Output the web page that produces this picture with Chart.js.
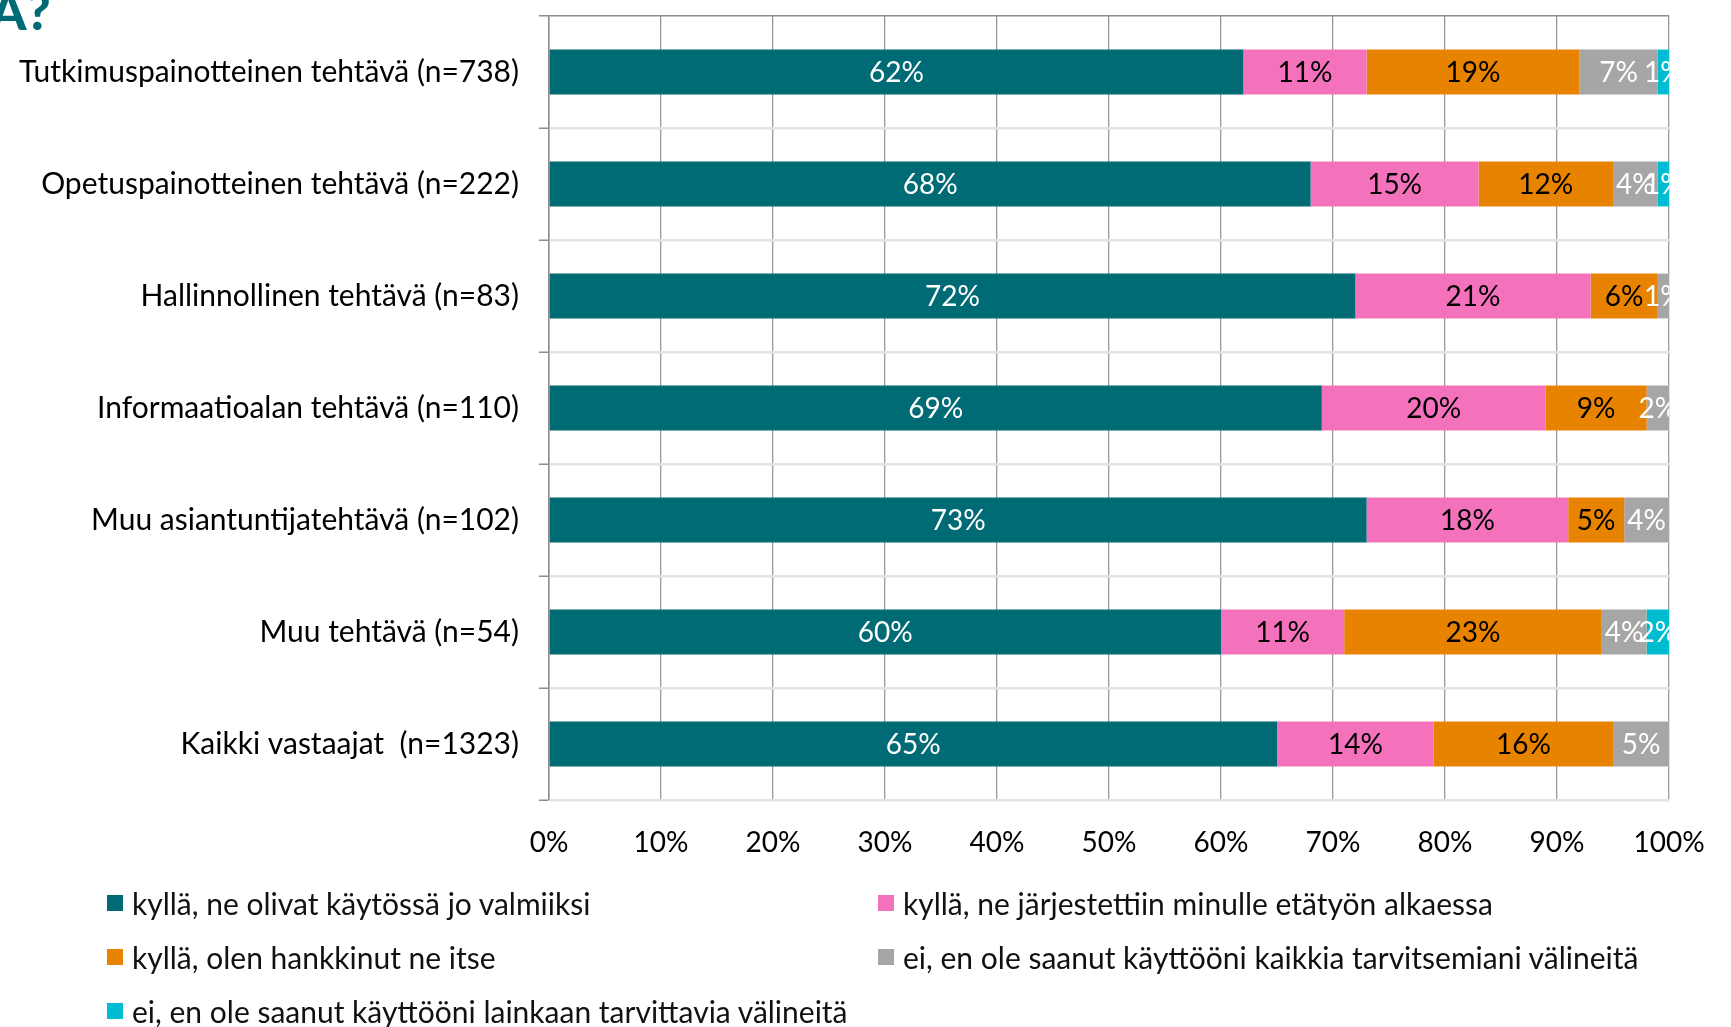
<!DOCTYPE html>
<html>
<head>
<meta charset="utf-8">
<script src="https://cdn.jsdelivr.net/npm/chart.js@4"></script>
<style>
  html, body { margin: 0; padding: 0; background: #fff; }
  body { width: 1731px; height: 1027px; position: relative; overflow: hidden; font-family: Lato, sans-serif; }
  #c { position: absolute; left: 0; top: 0; }
  #title { position: absolute; left: -10px; top: -16px; font: 900 52px/52px Lato, sans-serif; color: #006B74; white-space: nowrap; }
  .lg { position: absolute; font: 30px Lato, sans-serif; color: #111; white-space: nowrap; line-height: 32px; }
  .lg i { position: absolute; left: -25px; top: 8px; width: 16px; height: 16px; }
</style>
</head>
<body>
<div id="title">A?</div>
<canvas id="c" width="1731" height="1027"></canvas>
<div id="legend"></div>
<script>
const categories = [
  'Tutkimuspainotteinen tehtävä (n=738)',
  'Opetuspainotteinen tehtävä (n=222)',
  'Hallinnollinen tehtävä (n=83)',
  'Informaatioalan tehtävä (n=110)',
  'Muu asiantuntijatehtävä (n=102)',
  'Muu tehtävä (n=54)',
  'Kaikki vastaajat  (n=1323)'
];
const seriesNames = [
  'kyllä, ne olivat käytössä jo valmiiksi',
  'kyllä, ne järjestettiin minulle etätyön alkaessa',
  'kyllä, olen hankkinut ne itse',
  'ei, en ole saanut käyttööni kaikkia tarvitsemiani välineitä',
  'ei, en ole saanut käyttööni lainkaan tarvittavia välineitä'
];
const valmiiksi   = [62, 68, 72, 69, 73, 60, 65];
const jarjestetty = [11, 15, 21, 20, 18, 11, 14];
const itse        = [19, 12, 6, 9, 5, 23, 16];
const eiKaikkia   = [7, 4, 1, 2, 4, 4, 5];
const eiLainkaan  = [1, 1, 0, 0, 0, 2, 0];
const xTicks = [0, 10, 20, 30, 40, 50, 60, 70, 80, 90, 100];

const seriesValues = [valmiiksi, jarjestetty, itse, eiKaikkia, eiLainkaan];
const colors = ['#006B74', '#F472BC', '#E88300', '#A6A6A6', '#00BCD0'];
const labelColors = ['#ffffff', '#000000', '#000000', '#ffffff', '#ffffff'];

const valueLabels = {
  id: 'valueLabels',
  afterDatasetsDraw(chart) {
    const { ctx, chartArea } = chart;
    ctx.save();
    ctx.beginPath();
    ctx.rect(chartArea.left, chartArea.top, chartArea.right - chartArea.left, chartArea.bottom - chartArea.top);
    ctx.clip();
    ctx.font = '28px Lato';
    ctx.textAlign = 'center';
    ctx.textBaseline = 'middle';
    chart.data.datasets.forEach((ds, i) => {
      const meta = chart.getDatasetMeta(i);
      meta.data.forEach((bar, j) => {
        const v = ds.data[j];
        if (!v) return;
        ctx.fillStyle = labelColors[i];
        ctx.fillText(v + '%', (bar.x + bar.base) / 2, bar.y + 1);
      });
    });
    ctx.restore();
  }
};

function build() {
  const legend = document.getElementById('legend');
  const pos = [[132, 887], [903, 887], [132, 941], [903, 941], [132, 995]];
  seriesNames.forEach((n, i) => {
    const d = document.createElement('div');
    d.className = 'lg';
    d.style.left = pos[i][0] + 'px';
    d.style.top = pos[i][1] + 'px';
    d.innerHTML = '<i style="background:' + colors[i] + '"></i>' + n;
    legend.appendChild(d);
  });

  new Chart(document.getElementById('c'), {
    type: 'bar',
    data: {
      labels: categories,
      datasets: seriesNames.map((n, i) => ({
        label: n,
        data: seriesValues[i],
        backgroundColor: colors[i],
        borderWidth: 0,
        barPercentage: 0.4,
        categoryPercentage: 1.0
      }))
    },
    options: {
      indexAxis: 'y',
      responsive: false,
      animation: false,
      devicePixelRatio: 1,
      layout: { padding: { left: 0, top: 16, right: 62, bottom: 167 } },
      plugins: { legend: { display: false }, tooltip: { enabled: false } },
      scales: {
        x: {
          stacked: true,
          min: 0, max: 100,
          afterBuildTicks: (s) => { s.ticks = xTicks.map(v => ({ value: v })); },
          afterFit: (s) => { s.height = 60; s.paddingLeft = 0; s.paddingRight = 0; },
          ticks: { callback: (v) => v + '%', color: '#000', font: { family: 'Lato', size: 28 }, padding: 26, maxRotation: 0, autoSkip: false },
          grid: { color: '#9a9a9a', lineWidth: 1.3, drawTicks: false },
          border: { display: false }
        },
        y: {
          stacked: true,
          afterFit: (s) => { s.width = 549; s.paddingTop = 0; s.paddingBottom = 0; },
          ticks: { color: '#000', font: { family: 'Lato', size: 30 }, padding: 20 },
          grid: {
            offset: true,
            color: (c) => c.index === 0 ? '#8c8c8c' : '#e3e3e3',
            lineWidth: (c) => c.index === 0 ? 1.5 : 2.5,
            tickColor: '#8c8c8c',
            tickLength: 10,
            tickWidth: 1.5
          },
          border: { color: '#8c8c8c', width: 1.5 }
        }
      }
    },
    plugins: [valueLabels]
  });
}

if (document.fonts && document.fonts.load) {
  Promise.all([document.fonts.load('30px Lato'), document.fonts.load('900 52px Lato')]).then(build, build);
} else { build(); }
</script>
</body>
</html>
